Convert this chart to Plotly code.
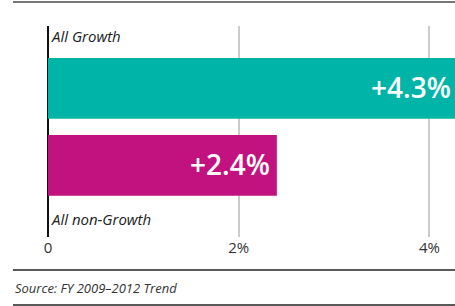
import plotly.graph_objects as go

categories = ["All non-Growth", "All Growth"]
values = [2.4, 4.3]
labels = ["+2.4%", "+4.3%"]
colors = ["#C2127F", "#00B5A8"]
tick_vals = [0, 2, 4]
tick_text = ["0", "2%", "4%"]
source = "Source: FY 2009\u20132012 Trend"

FONT = "Open Sans"

fig = go.Figure()
fig.add_trace(go.Bar(
    x=values, y=[0, 1], orientation="h",
    marker=dict(color=colors, line=dict(width=0)),
    width=0.79,
    textposition="none",
    hoverinfo="skip",
))

# value labels inside bar ends
for v, t, yy in zip(values, labels, [0, 1]):
    fig.add_annotation(x=v, y=yy, xref="x", yref="y", text=t, showarrow=False,
                       xanchor="right", yanchor="middle", xshift=-5, yshift=1,
                       font=dict(family=FONT, size=28, color="white", weight=600))

# category labels
label_y = [-0.70, 1.68]
for cat, yy in zip(categories, label_y):
    fig.add_annotation(x=0, y=yy, xref="x", yref="y", text=cat, showarrow=False,
                       xanchor="left", yanchor="middle", xshift=1,
                       font=dict(family=FONT, size=15, color="#222222", style="italic"))

fig.add_annotation(x=-0.0855, y=-0.243, xref="paper", yref="paper", text=source,
                   showarrow=False, xanchor="left", yanchor="middle",
                   font=dict(family=FONT, size=13, color="#333333", style="italic"))

# rule lines
fig.add_shape(type="line", xref="paper", yref="paper", x0=-0.0855, x1=1, y0=1.1137, y1=1.1137,
              line=dict(color="#777777", width=2))
fig.add_shape(type="line", xref="paper", yref="paper", x0=-0.0855, x1=1, y0=-0.156, y1=-0.156,
              line=dict(color="#222222", width=1.5))
fig.add_shape(type="line", xref="paper", yref="paper", x0=-0.0855, x1=1, y0=-0.322, y1=-0.322,
              line=dict(color="#222222", width=1.5))

fig.update_layout(
    width=458, height=306,
    margin=dict(l=48, r=0, t=26, b=69),
    paper_bgcolor="white", plot_bgcolor="white",
    showlegend=False,
    font=dict(family=FONT),
    xaxis=dict(range=[0, 4.3], tickvals=tick_vals, ticktext=tick_text,
               showgrid=True, gridcolor="#CCCCCC", gridwidth=1.5,
               zeroline=True, zerolinecolor="#111111", zerolinewidth=2,
               showline=False, ticks="", tickfont=dict(family=FONT, size=15, color="#333333"),
               fixedrange=True),
    yaxis=dict(range=[-0.93, 1.81], showticklabels=False, showgrid=False,
               zeroline=False, showline=False, fixedrange=True),
)

fig.write_html("out.html", config={"displayModeBar": False},
               post_script="document.body.style.margin='0';document.body.style.overflow='hidden';")
